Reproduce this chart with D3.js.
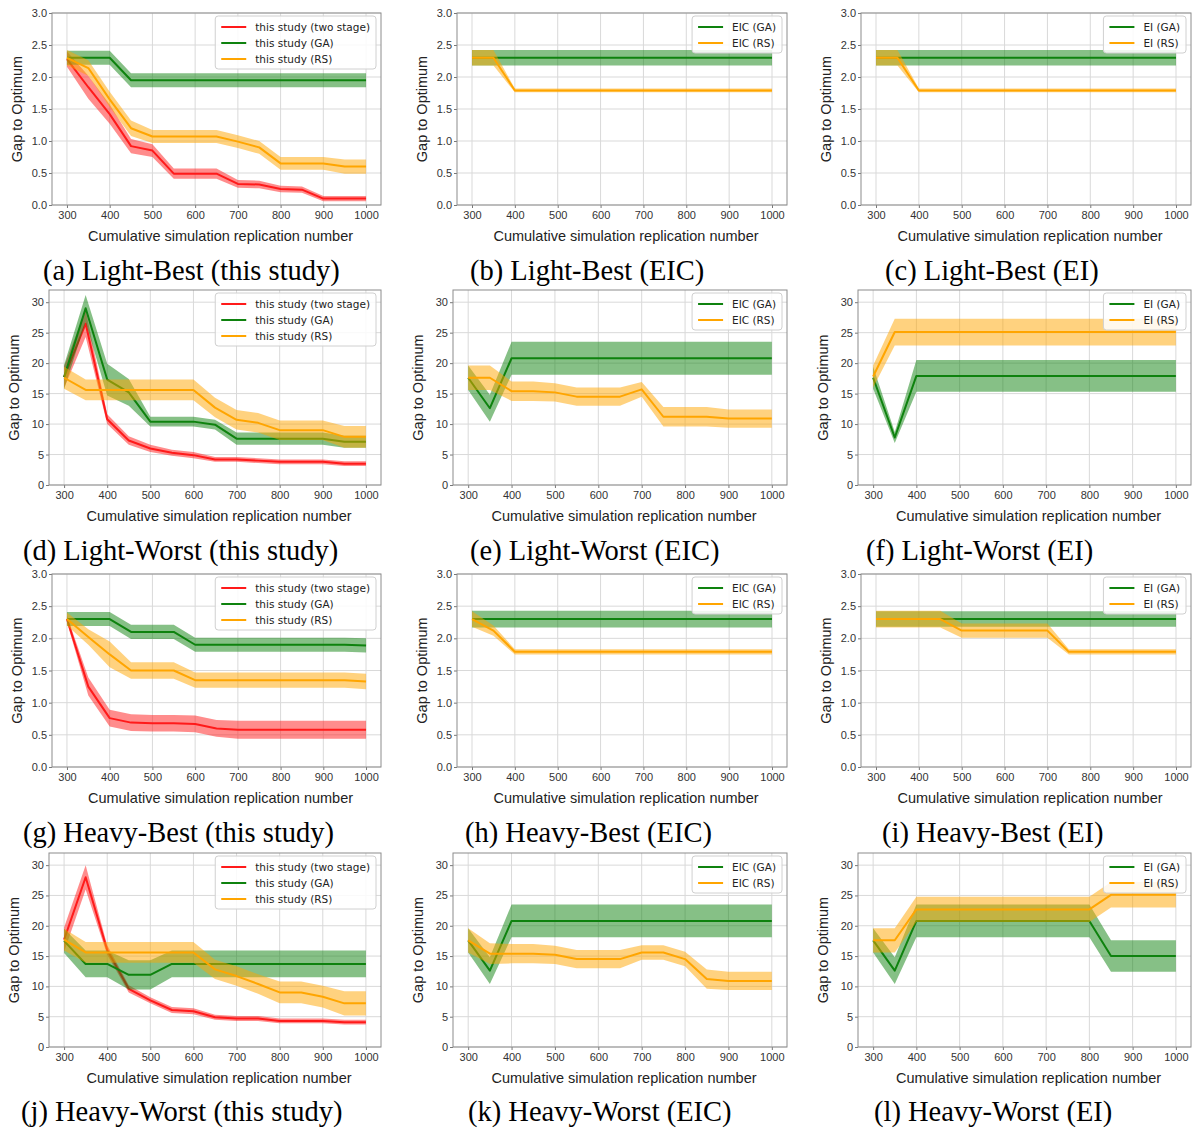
<!DOCTYPE html>
<html>
<head>
<meta charset="utf-8">
<script src="https://cdn.jsdelivr.net/npm/d3@7"></script>
<style>
  body { margin: 0; background: #fff; }
  svg { display: block; }
</style>
</head>
<body>
<svg id="fig" width="1196" height="1131"></svg>
<script>
// Cumulative simulation replication numbers (x axis, shared by all panels)
const replications = [300, 350, 400, 450, 500, 550, 600, 650, 700, 750, 800, 850, 900, 950, 1000];

// Tick labels
const xTickValues = [300, 400, 500, 600, 700, 800, 900, 1000];
const yTicksBest = [0, 0.5, 1.0, 1.5, 2.0, 2.5, 3.0];
const yTicksWorst = [0, 5, 10, 15, 20, 25, 30];

// (a) Light-Best (this study): mean gap and half-width of the band
const aTwoStage = [2.28, 1.84, 1.42, 0.92, 0.85, 0.49, 0.49, 0.49, 0.33, 0.32, 0.25, 0.24, 0.10, 0.10, 0.10];
const aTwoStageSpread = [0.12, 0.18, 0.15, 0.11, 0.10, 0.08, 0.08, 0.08, 0.06, 0.06, 0.05, 0.05, 0.04, 0.04, 0.04];
const aGA = [2.30, 2.30, 2.30, 1.95, 1.95, 1.95, 1.95, 1.95, 1.95, 1.95, 1.95, 1.95, 1.95, 1.95, 1.95];
const aGASpread = [0.11, 0.11, 0.11, 0.11, 0.11, 0.11, 0.11, 0.11, 0.11, 0.11, 0.11, 0.11, 0.11, 0.11, 0.11];
const aRS = [2.30, 2.14, 1.65, 1.20, 1.07, 1.07, 1.07, 1.07, 0.99, 0.90, 0.65, 0.65, 0.65, 0.60, 0.60];
const aRSSpread = [0.12, 0.12, 0.12, 0.12, 0.10, 0.10, 0.10, 0.10, 0.10, 0.10, 0.10, 0.10, 0.10, 0.11, 0.11];

// (b) Light-Best (EIC)
const bGA = [2.30, 2.30, 2.30, 2.30, 2.30, 2.30, 2.30, 2.30, 2.30, 2.30, 2.30, 2.30, 2.30, 2.30, 2.30];
const bGASpread = [0.12, 0.12, 0.12, 0.12, 0.12, 0.12, 0.12, 0.12, 0.12, 0.12, 0.12, 0.12, 0.12, 0.12, 0.12];
const bRS = [2.30, 2.30, 1.79, 1.79, 1.79, 1.79, 1.79, 1.79, 1.79, 1.79, 1.79, 1.79, 1.79, 1.79, 1.79];
const bRSSpread = [0.12, 0.12, 0.03, 0.03, 0.03, 0.03, 0.03, 0.03, 0.03, 0.03, 0.03, 0.03, 0.03, 0.03, 0.03];

// (c) Light-Best (EI)
const cGA = [2.30, 2.30, 2.30, 2.30, 2.30, 2.30, 2.30, 2.30, 2.30, 2.30, 2.30, 2.30, 2.30, 2.30, 2.30];
const cGASpread = [0.12, 0.12, 0.12, 0.12, 0.12, 0.12, 0.12, 0.12, 0.12, 0.12, 0.12, 0.12, 0.12, 0.12, 0.12];
const cRS = [2.30, 2.30, 1.79, 1.79, 1.79, 1.79, 1.79, 1.79, 1.79, 1.79, 1.79, 1.79, 1.79, 1.79, 1.79];
const cRSSpread = [0.12, 0.12, 0.03, 0.03, 0.03, 0.03, 0.03, 0.03, 0.03, 0.03, 0.03, 0.03, 0.03, 0.03, 0.03];

// (d) Light-Worst (this study)
const dTwoStage = [17.7, 26.5, 10.8, 7.3, 6.0, 5.3, 4.9, 4.2, 4.2, 4.0, 3.8, 3.8, 3.8, 3.5, 3.5];
const dTwoStageSpread = [1.8, 2.2, 0.8, 0.7, 0.6, 0.5, 0.5, 0.4, 0.4, 0.4, 0.4, 0.4, 0.4, 0.4, 0.4];
const dGA = [17.7, 29.0, 17.3, 15.2, 10.4, 10.4, 10.4, 9.9, 7.6, 7.6, 7.6, 7.6, 7.6, 7.1, 7.1];
const dGASpread = [2.0, 2.2, 2.6, 2.2, 0.8, 0.8, 0.8, 0.8, 1.0, 1.0, 1.0, 1.0, 1.0, 1.0, 1.0];
const dRS = [17.6, 15.6, 15.6, 15.6, 15.6, 15.6, 15.6, 12.7, 10.7, 10.2, 9.0, 9.0, 9.0, 7.9, 7.9];
const dRSSpread = [1.8, 1.7, 1.7, 1.7, 1.7, 1.7, 1.7, 1.6, 1.6, 1.6, 1.6, 1.6, 1.6, 1.8, 1.8];

// (e) Light-Worst (EIC)
const eGA = [17.6, 12.6, 20.8, 20.8, 20.8, 20.8, 20.8, 20.8, 20.8, 20.8, 20.8, 20.8, 20.8, 20.8, 20.8];
const eGASpread = [2.0, 2.2, 2.7, 2.7, 2.7, 2.7, 2.7, 2.7, 2.7, 2.7, 2.7, 2.7, 2.7, 2.7, 2.7];
const eRS = [17.6, 17.6, 15.4, 15.4, 15.2, 14.5, 14.5, 14.5, 15.7, 11.2, 11.2, 11.2, 10.9, 10.9, 10.9];
const eRSSpread = [2.0, 2.0, 1.6, 1.6, 1.5, 1.5, 1.5, 1.5, 1.2, 1.6, 1.6, 1.6, 1.5, 1.5, 1.5];

// (f) Light-Worst (EI)
const fGA = [17.6, 7.8, 17.9, 17.9, 17.9, 17.9, 17.9, 17.9, 17.9, 17.9, 17.9, 17.9, 17.9, 17.9, 17.9];
const fGASpread = [1.8, 0.9, 2.6, 2.6, 2.6, 2.6, 2.6, 2.6, 2.6, 2.6, 2.6, 2.6, 2.6, 2.6, 2.6];
const fRS = [17.8, 25.1, 25.1, 25.1, 25.1, 25.1, 25.1, 25.1, 25.1, 25.1, 25.1, 25.1, 25.1, 25.1, 25.1];
const fRSSpread = [1.8, 2.2, 2.2, 2.2, 2.2, 2.2, 2.2, 2.2, 2.2, 2.2, 2.2, 2.2, 2.2, 2.2, 2.2];

// (g) Heavy-Best (this study)
const gTwoStage = [2.30, 1.25, 0.76, 0.69, 0.68, 0.68, 0.67, 0.60, 0.58, 0.58, 0.58, 0.58, 0.58, 0.58, 0.58];
const gTwoStageSpread = [0.05, 0.14, 0.13, 0.13, 0.13, 0.13, 0.13, 0.13, 0.14, 0.14, 0.14, 0.14, 0.14, 0.14, 0.14];
const gGA = [2.30, 2.30, 2.30, 2.10, 2.10, 2.10, 1.90, 1.90, 1.90, 1.90, 1.90, 1.90, 1.90, 1.90, 1.89];
const gGASpread = [0.11, 0.11, 0.11, 0.11, 0.11, 0.11, 0.11, 0.11, 0.11, 0.11, 0.11, 0.11, 0.11, 0.11, 0.11];
const gRS = [2.30, 2.02, 1.75, 1.50, 1.50, 1.50, 1.35, 1.35, 1.35, 1.35, 1.35, 1.35, 1.35, 1.35, 1.33];
const gRSSpread = [0.10, 0.12, 0.20, 0.13, 0.13, 0.13, 0.12, 0.12, 0.12, 0.12, 0.12, 0.12, 0.12, 0.12, 0.12];

// (h) Heavy-Best (EIC)
const hGA = [2.30, 2.30, 2.30, 2.30, 2.30, 2.30, 2.30, 2.30, 2.30, 2.30, 2.30, 2.30, 2.30, 2.30, 2.30];
const hGASpread = [0.13, 0.13, 0.13, 0.13, 0.13, 0.13, 0.13, 0.13, 0.13, 0.13, 0.13, 0.13, 0.13, 0.13, 0.13];
const hRS = [2.30, 2.12, 1.79, 1.79, 1.79, 1.79, 1.79, 1.79, 1.79, 1.79, 1.79, 1.79, 1.79, 1.79, 1.79];
const hRSSpread = [0.12, 0.08, 0.04, 0.04, 0.04, 0.04, 0.04, 0.04, 0.04, 0.04, 0.04, 0.04, 0.04, 0.04, 0.04];

// (i) Heavy-Best (EI)
const iGA = [2.30, 2.30, 2.30, 2.30, 2.30, 2.30, 2.30, 2.30, 2.30, 2.30, 2.30, 2.30, 2.30, 2.30, 2.30];
const iGASpread = [0.12, 0.12, 0.12, 0.12, 0.12, 0.12, 0.12, 0.12, 0.12, 0.12, 0.12, 0.12, 0.12, 0.12, 0.12];
const iRS = [2.30, 2.30, 2.30, 2.30, 2.12, 2.12, 2.12, 2.12, 2.12, 1.79, 1.79, 1.79, 1.79, 1.79, 1.79];
const iRSSpread = [0.13, 0.13, 0.13, 0.13, 0.11, 0.11, 0.11, 0.11, 0.11, 0.04, 0.04, 0.04, 0.04, 0.04, 0.04];

// (j) Heavy-Worst (this study)
const jTwoStage = [17.7, 28.0, 16.0, 9.6, 7.7, 6.1, 5.9, 4.9, 4.7, 4.7, 4.3, 4.3, 4.3, 4.1, 4.1];
const jTwoStageSpread = [2.0, 2.0, 0.8, 0.6, 0.5, 0.5, 0.5, 0.4, 0.4, 0.4, 0.4, 0.4, 0.4, 0.4, 0.4];
const jGA = [17.5, 13.7, 13.7, 11.9, 11.9, 13.7, 13.7, 13.7, 13.7, 13.7, 13.7, 13.7, 13.7, 13.7, 13.7];
const jGASpread = [2.0, 2.2, 2.2, 2.4, 2.4, 2.2, 2.2, 2.2, 2.2, 2.2, 2.2, 2.2, 2.2, 2.2, 2.2];
const jRS = [17.7, 15.6, 15.6, 15.6, 15.6, 15.6, 15.6, 12.8, 11.7, 10.4, 9.0, 9.0, 8.3, 7.2, 7.2];
const jRSSpread = [1.8, 1.7, 1.7, 1.7, 1.7, 1.7, 1.7, 1.6, 1.6, 1.6, 1.8, 1.8, 1.8, 2.0, 2.0];

// (k) Heavy-Worst (EIC)
const kGA = [17.6, 12.6, 20.8, 20.8, 20.8, 20.8, 20.8, 20.8, 20.8, 20.8, 20.8, 20.8, 20.8, 20.8, 20.8];
const kGASpread = [2.0, 2.2, 2.7, 2.7, 2.7, 2.7, 2.7, 2.7, 2.7, 2.7, 2.7, 2.7, 2.7, 2.7, 2.7];
const kRS = [17.6, 15.4, 15.4, 15.4, 15.2, 14.5, 14.5, 14.5, 15.6, 15.6, 14.5, 11.2, 10.9, 10.9, 10.9];
const kRSSpread = [2.0, 1.7, 1.6, 1.6, 1.5, 1.5, 1.5, 1.5, 1.2, 1.2, 1.2, 1.6, 1.5, 1.5, 1.5];

// (l) Heavy-Worst (EI)
const lGA = [17.6, 12.6, 20.8, 20.8, 20.8, 20.8, 20.8, 20.8, 20.8, 20.8, 20.8, 15.0, 15.0, 15.0, 15.0];
const lGASpread = [2.0, 2.2, 2.7, 2.7, 2.7, 2.7, 2.7, 2.7, 2.7, 2.7, 2.7, 2.6, 2.6, 2.6, 2.6];
const lRS = [17.6, 17.6, 22.7, 22.7, 22.7, 22.7, 22.7, 22.7, 22.7, 22.7, 22.7, 25.1, 25.1, 25.1, 25.1];
const lRSSpread = [2.0, 2.0, 2.1, 2.1, 2.1, 2.1, 2.1, 2.1, 2.1, 2.1, 2.1, 2.1, 2.1, 2.1, 2.1];

// Panel captions
const captions = [
  "(a) Light-Best (this study)", "(b) Light-Best (EIC)", "(c) Light-Best (EI)",
  "(d) Light-Worst (this study)", "(e) Light-Worst (EIC)", "(f) Light-Worst (EI)",
  "(g) Heavy-Best (this study)", "(h) Heavy-Best (EIC)", "(i) Heavy-Best (EI)",
  "(j) Heavy-Worst (this study)", "(k) Heavy-Worst (EIC)", "(l) Heavy-Worst (EI)"
];

// ---------------------------------------------------------------------------
const COLOR = { red: "#ff1a1a", green: "#0e820e", orange: "#ffa500" };
const SANS = "'Liberation Sans', Arial, sans-serif";
const LEGEND_FONT = "'DejaVu Sans', sans-serif";

const threeSeries = (two, twoS, ga, gaS, rs, rsS) => [
  { label: "this study (two stage)", color: COLOR.red, mean: two, spread: twoS },
  { label: "this study (GA)", color: COLOR.green, mean: ga, spread: gaS },
  { label: "this study (RS)", color: COLOR.orange, mean: rs, spread: rsS }
];
const twoSeries = (name, ga, gaS, rs, rsS) => [
  { label: name + " (GA)", color: COLOR.green, mean: ga, spread: gaS },
  { label: name + " (RS)", color: COLOR.orange, mean: rs, spread: rsS }
];

const seriesByPanel = [
  threeSeries(aTwoStage, aTwoStageSpread, aGA, aGASpread, aRS, aRSSpread),
  twoSeries("EIC", bGA, bGASpread, bRS, bRSSpread),
  twoSeries("EI", cGA, cGASpread, cRS, cRSSpread),
  threeSeries(dTwoStage, dTwoStageSpread, dGA, dGASpread, dRS, dRSSpread),
  twoSeries("EIC", eGA, eGASpread, eRS, eRSSpread),
  twoSeries("EI", fGA, fGASpread, fRS, fRSSpread),
  threeSeries(gTwoStage, gTwoStageSpread, gGA, gGASpread, gRS, gRSSpread),
  twoSeries("EIC", hGA, hGASpread, hRS, hRSSpread),
  twoSeries("EI", iGA, iGASpread, iRS, iRSSpread),
  threeSeries(jTwoStage, jTwoStageSpread, jGA, jGASpread, jRS, jRSSpread),
  twoSeries("EIC", kGA, kGASpread, kRS, kRSSpread),
  twoSeries("EI", lGA, lGASpread, lRS, lRSSpread)
];

// Layout of the 4 x 3 grid of axes
const rowFrames = [
  { top: 13, bottom: 205, caption: 280 },
  { top: 290, bottom: 485, caption: 560 },
  { top: 574, bottom: 767, caption: 842 },
  { top: 853, bottom: 1047, caption: 1121 }
];
const colFramesBest = [[52, 381], [457, 787], [861, 1191]];
const colFramesWorst = [[49, 381], [453, 787], [858, 1191]];
const captionX = [43, 470, 885, 23, 470, 866, 23, 465, 882, 21, 468, 874];

const svg = d3.select("#fig");

seriesByPanel.forEach((series, idx) => {
  const row = Math.floor(idx / 3), col = idx % 3;
  const worst = row % 2 === 1;
  const [left, right] = (worst ? colFramesWorst : colFramesBest)[col];
  const { top, bottom, caption } = rowFrames[row];

  const x = d3.scaleLinear().domain([265, 1035]).range([left, right]);
  const y = d3.scaleLinear().domain([0, worst ? 32 : 3]).range([bottom, top]);
  const yTicks = worst ? yTicksWorst : yTicksBest;
  const yFmt = worst ? d3.format("d") : d3.format(".1f");

  const g = svg.append("g");
  const clipId = "clip" + idx;
  g.append("clipPath").attr("id", clipId)
    .append("rect").attr("x", left).attr("y", top)
    .attr("width", right - left).attr("height", bottom - top);

  // grid
  const grid = g.append("g").attr("stroke", "#d9d9d9").attr("stroke-width", 1);
  grid.selectAll(".gx").data(xTickValues).join("line")
    .attr("x1", d => x(d)).attr("x2", d => x(d)).attr("y1", top).attr("y2", bottom);
  grid.selectAll(".gy").data(yTicks).join("line")
    .attr("x1", left).attr("x2", right).attr("y1", d => y(d)).attr("y2", d => y(d));

  // axes (ticks + labels) through d3-axis
  const xAxis = g.append("g").attr("transform", `translate(0,${bottom})`)
    .call(d3.axisBottom(x).tickValues(xTickValues).tickFormat(d3.format("d")).tickSize(3).tickPadding(3));
  const yAxis = g.append("g").attr("transform", `translate(${left},0)`)
    .call(d3.axisLeft(y).tickValues(yTicks).tickFormat(yFmt).tickSize(3).tickPadding(2));
  [xAxis, yAxis].forEach(a => {
    a.select(".domain").remove();
    a.selectAll(".tick line").attr("stroke", "#777");
    a.selectAll(".tick text").attr("fill", "#333").style("font-family", SANS).style("font-size", "11px");
  });

  // confidence bands and mean lines
  const plot = g.append("g").attr("clip-path", `url(#${clipId})`);
  const area = d3.area().x((d, i) => x(replications[i]))
    .y0(d => y(d[0] - d[1])).y1(d => y(d[0] + d[1]));
  const line = d3.line().x((d, i) => x(replications[i])).y(d => y(d));
  series.forEach(s => {
    plot.append("path")
      .datum(s.mean.map((m, i) => [m, s.spread[i]]))
      .attr("d", area).attr("fill", s.color).attr("fill-opacity", 0.5);
    plot.append("path")
      .datum(s.mean).attr("d", line)
      .attr("fill", "none").attr("stroke", s.color).attr("stroke-width", 2)
      .attr("stroke-linejoin", "round");
  });

  // frame
  g.append("rect").attr("x", left).attr("y", top)
    .attr("width", right - left).attr("height", bottom - top)
    .attr("fill", "none").attr("stroke", "#8c8c8c").attr("stroke-width", 1);

  // legend (upper right)
  const lg = g.append("g");
  const box = lg.append("rect").attr("fill", "#fff").attr("fill-opacity", 0.85)
    .attr("stroke", "#d0d0d0").attr("rx", 3);
  const texts = series.map((s, i) => {
    lg.append("line").attr("stroke", s.color).attr("stroke-width", 2)
      .attr("data-i", i);
    return lg.append("text").text(s.label)
      .style("font-family", LEGEND_FONT).style("font-size", "10.5px").attr("fill", "#222");
  });
  const maxW = d3.max(texts, t => t.node().getComputedTextLength());
  const boxW = 6 + 25 + 9 + maxW + 6;
  const boxH = 16 * series.length + 5;
  const bx = right - 5 - boxW, by = top + 3;
  box.attr("x", bx).attr("y", by).attr("width", boxW).attr("height", boxH);
  lg.selectAll("line").each(function () {
    const i = +this.getAttribute("data-i");
    const cy = by + 11 + 16 * i;
    d3.select(this).attr("x1", bx + 6).attr("x2", bx + 31).attr("y1", cy).attr("y2", cy);
  });
  texts.forEach((t, i) => t.attr("x", bx + 40).attr("y", by + 11 + 16 * i).attr("dy", "0.35em"));

  // axis titles
  g.append("text").text("Cumulative simulation replication number")
    .attr("x", (left + right) / 2 + 4).attr("y", bottom + 31).attr("dy", "0.35em")
    .attr("text-anchor", "middle").attr("fill", "#222")
    .style("font-family", SANS).style("font-size", "14.5px");
  g.append("text").text("Gap to Optimum")
    .attr("transform", `translate(${left - 35},${(top + bottom) / 2}) rotate(-90)`)
    .attr("dy", "0.35em").attr("text-anchor", "middle").attr("fill", "#222")
    .style("font-family", SANS).style("font-size", "14.5px");

  // caption below each panel
  svg.append("text").text(captions[idx])
    .attr("x", captionX[idx]).attr("y", caption)
    .attr("fill", "#000")
    .style("font-family", "'Liberation Serif', 'Times New Roman', serif").style("font-size", "28.5px");
});
</script>
</body>
</html>
